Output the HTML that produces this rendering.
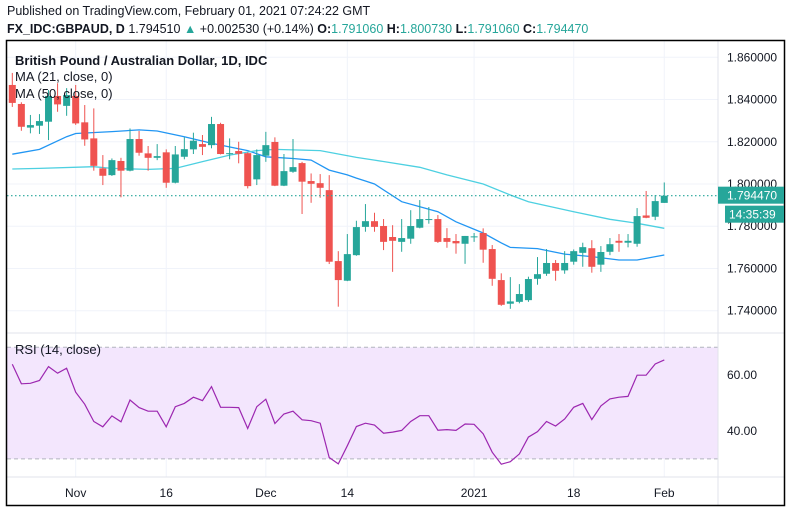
<!DOCTYPE html>
<html><head><meta charset="utf-8">
<style>
html,body{margin:0;padding:0;background:#fff;}
body{width:791px;height:513px;overflow:hidden;font-family:"Liberation Sans",sans-serif;}
.h1{position:absolute;left:7px;top:4px;font-size:12.5px;color:#131722;}
.h2{position:absolute;left:7px;top:22px;font-size:12.5px;color:#131722;white-space:nowrap;}
.h2 b{font-weight:bold}
.g{color:#26a69a}
svg{position:absolute;left:0;top:0}
</style></head>
<body>
<div class="h1">Published on TradingView.com, February 01, 2021 07:24:22 GMT</div>
<div class="h2"><b>FX_IDC:GBPAUD, D</b> 1.794510 <span class="g">▲</span> +0.002530 (+0.14%) <b>O:</b><span class="g">1.791060</span> <b>H:</b><span class="g">1.800730</span> <b>L:</b><span class="g">1.791060</span> <b>C:</b><span class="g">1.794470</span></div>
<svg id="chart" width="791" height="513"></svg>
<script>
const opens=[1.8469,1.8379,1.8267,1.8276,1.8295,1.8417,1.8370,1.8417,1.8292,1.8216,1.8074,1.8042,1.8109,1.8063,1.8213,1.8145,1.8124,1.8150,1.8006,1.8129,1.8164,1.8189,1.8184,1.8284,1.8144,1.8156,1.8146,1.8022,1.8134,1.8199,1.7992,1.8058,1.8099,1.8014,1.8004,1.7971,1.7635,1.7542,1.7663,1.7797,1.7824,1.7801,1.7749,1.7726,1.7741,1.7793,1.7832,1.7834,1.7744,1.7730,1.7717,1.7750,1.7768,1.7692,1.7545,1.7433,1.7442,1.7450,1.7551,1.7575,1.7626,1.7591,1.7632,1.7674,1.7696,1.7618,1.7679,1.7731,1.7722,1.7717,1.7851,1.7845,1.79106];
const highs=[1.8526,1.8387,1.8327,1.8331,1.8445,1.8477,1.8454,1.8469,1.8374,1.8358,1.8137,1.8121,1.8124,1.8263,1.8251,1.8180,1.8189,1.8164,1.8180,1.8221,1.8243,1.8232,1.8318,1.8290,1.8216,1.8200,1.8150,1.8164,1.8247,1.8221,1.8142,1.8213,1.8105,1.8050,1.8047,1.8042,1.7682,1.7763,1.7826,1.7905,1.7864,1.7834,1.7805,1.7834,1.7876,1.7924,1.7891,1.7853,1.7791,1.7763,1.7754,1.7768,1.7790,1.7711,1.7577,1.7559,1.7526,1.7561,1.7654,1.7692,1.7640,1.7682,1.7690,1.7722,1.7734,1.7706,1.7744,1.7763,1.7763,1.7886,1.7967,1.7948,1.80073];
const lows=[1.8365,1.8252,1.8240,1.8237,1.8208,1.8342,1.8323,1.8280,1.8181,1.8063,1.7995,1.8038,1.7937,1.8060,1.8134,1.8063,1.8113,1.7982,1.8003,1.8117,1.8142,1.8137,1.8169,1.8140,1.8117,1.8098,1.7979,1.7995,1.8105,1.7990,1.7990,1.8053,1.7858,1.7911,1.7935,1.7621,1.7419,1.7540,1.7660,1.7774,1.7774,1.7687,1.7584,1.7679,1.7717,1.7790,1.7812,1.7721,1.7698,1.7670,1.7622,1.7726,1.7627,1.7518,1.7423,1.7409,1.7435,1.7442,1.7523,1.7565,1.7542,1.7575,1.7618,1.7608,1.7580,1.7584,1.7663,1.7679,1.7700,1.7703,1.7838,1.7829,1.79106];
const closes=[1.8384,1.8271,1.8279,1.8298,1.8417,1.8377,1.8421,1.8287,1.8211,1.8086,1.8039,1.8113,1.8063,1.8213,1.8148,1.8124,1.8132,1.8006,1.8140,1.8165,1.8205,1.8176,1.8284,1.8142,1.8146,1.8143,1.7990,1.8137,1.8184,1.7992,1.8061,1.8080,1.8011,1.8001,1.7982,1.7632,1.7545,1.7668,1.7796,1.7824,1.7797,1.7726,1.7731,1.7744,1.7801,1.7834,1.7834,1.7726,1.7726,1.7719,1.7754,1.7752,1.7689,1.7551,1.7428,1.7444,1.7479,1.7550,1.7573,1.7626,1.7589,1.7626,1.7682,1.7701,1.7608,1.7678,1.7715,1.7722,1.7731,1.7848,1.7840,1.7919,1.79447];
const ma21Idx=[0,3,6,7,11,14,16,19,22,26,28,31,33,35,37,38,39,40,43,47,49,52,54,55,58,61,64,67,69,72];
const ma21Val=[1.8141,1.8164,1.8224,1.8239,1.8248,1.8256,1.8251,1.8224,1.8193,1.8158,1.8129,1.8121,1.8113,1.8066,1.8043,1.8028,1.8014,1.8000,1.7916,1.7869,1.7821,1.7768,1.7721,1.7700,1.7694,1.7668,1.7656,1.7640,1.7640,1.7664];
const ma50Idx=[0,3,9,11,15,18,21,24,27,29,34,38,40,45,48,52,55,57,62,66,69,72];
const ma50Val=[1.8071,1.8074,1.8082,1.8074,1.8069,1.8074,1.8106,1.8137,1.8158,1.8164,1.8158,1.8126,1.8113,1.8079,1.8043,1.8000,1.7948,1.7916,1.7869,1.7833,1.7814,1.7790];
const rsi=[63.9,56.9,57.1,58.1,63.1,60.7,62.5,53.9,49.6,43.4,41.5,45.4,43.3,51.1,48.4,47.1,47.1,41.5,48.7,49.9,52.1,50.9,55.9,48.5,48.5,48.4,40.9,48.7,51.4,42.7,46.1,47.1,44.0,43.7,42.8,30.5,28.2,34.7,41.6,42.8,42.1,39.2,39.6,40.2,43.4,45.5,45.5,40.3,40.5,40.2,42.5,42.4,39.0,32.4,28.1,29.0,31.8,37.8,39.8,43.4,41.8,44.3,48.5,49.9,44.1,49.0,51.5,52.1,52.4,60.0,60.0,64.0,65.5];
const priceTicks=[1.86,1.84,1.82,1.80,1.78,1.76,1.74];
const rsiTicks=[60,40];
const timeLabels=["Nov","16","Dec","14","2021","18","Feb"];
const timeIdx=[7,17,28,37,51,62,72];
const lastPrice=1.79447;

const NS="http://www.w3.org/2000/svg";
const svg=document.getElementById('chart');
function el(tag,attrs,parent){const e=document.createElementNS(NS,tag);for(const k in attrs)e.setAttribute(k,attrs[k]);(parent||svg).appendChild(e);return e;}
const X=i=>12.3+9.055*i;
const Y=p=>57.3+(1.86-p)*2111.7;
const RY=v=>347.3+(70-v)*2.79;
const L=7,R=718,T=41,MB=333,RB=477,B=505;

const grid=el('g',{});


timeIdx.forEach(i=>{el('line',{x1:X(i),x2:X(i),y1:T,y2:RB,stroke:'#f0f3fa','stroke-width':1},grid);});
priceTicks.forEach(p=>{el('line',{x1:L,x2:R,y1:Y(p),y2:Y(p),stroke:'#f0f3fa','stroke-width':1},grid);});
const band=el('rect',{x:L,y:RY(70),width:R-L,height:RY(30)-RY(70),fill:'#f3e6fd'});


rsiTicks.forEach(v=>{el('line',{x1:L,x2:R,y1:RY(v),y2:RY(v),stroke:'#e4d3f0','stroke-width':1},grid);});
timeIdx.forEach(i=>{el('line',{x1:X(i),x2:X(i),y1:RY(70),y2:RY(30),stroke:'#e8d8f3','stroke-width':1},grid);});
[70,30].forEach(v=>{const d=el('line',{x1:L,x2:R,y1:RY(v),y2:RY(v),stroke:'#b2b5be','stroke-width':1,'stroke-dasharray':'4,3'});});

function poly(idx,val,color,name){let d='';idx.forEach((i,k)=>{d+=(k?'L':'M')+X(i).toFixed(1)+','+Y(val[k]).toFixed(1);});const p=el('path',{d:d,fill:'none',stroke:color,'stroke-width':1.3});}
poly(ma21Idx,ma21Val,'#2196f3','ma-21-line');
poly(ma50Idx,ma50Val,'#4dd0e1','ma-50-line');

const cg=el('g',{});


opens.forEach((o,i)=>{
  const c=closes[i],up=c>=o,col=up?'#26a69a':'#ef5350';
  const g=el('g',{},cg);
  
  
  const x=X(i);
  el('line',{x1:x,x2:x,y1:Y(highs[i]),y2:Y(lows[i]),stroke:col,'stroke-width':1},g);
  const top=Y(Math.max(o,c)),bot=Y(Math.min(o,c));
  el('rect',{x:x-3.5,y:top,width:7,height:Math.max(1,bot-top),fill:col},g);
});

const lp=el('line',{x1:L,x2:R,y1:Y(lastPrice),y2:Y(lastPrice),stroke:'#26a69a','stroke-width':1.2,'stroke-dasharray':'1.5,2.5'});



let rd='';rsi.forEach((v,i)=>{rd+=(i?'L':'M')+X(i).toFixed(1)+','+RY(v).toFixed(1);});
const rl=el('path',{d:rd,fill:'none',stroke:'#9c27b0','stroke-width':1.2});



el('line',{x1:R,x2:R,y1:T,y2:B,stroke:'#e0e3eb','stroke-width':1});
el('line',{x1:L,x2:784,y1:MB,y2:MB,stroke:'#e0e3eb','stroke-width':1});
el('line',{x1:L,x2:784,y1:RB,y2:RB,stroke:'#e0e3eb','stroke-width':1});
const fr=el('rect',{x:6.5,y:40.5,width:778,height:465,fill:'none',stroke:'#000','stroke-width':1.5});



const txt=(s,x,y,attrs,name)=>{const t=el('text',Object.assign({x:x,y:y,'font-size':12,fill:'#131722','font-family':'Liberation Sans, sans-serif'},attrs||{}));t.textContent=s;return t;};
priceTicks.forEach(p=>txt(p.toFixed(6),727,Y(p)+4,{},'price-tick-label'));
rsiTicks.forEach(v=>txt(v.toFixed(2),727,RY(v)+4,{},'rsi-tick-label'));
timeLabels.forEach((s,k)=>txt(s,X(timeIdx[k]),497,{'text-anchor':'middle'},'time-tick-label'));

const b1=el('rect',{x:718,y:Y(lastPrice)-9,width:66,height:17,fill:'#26a69a'});


txt(lastPrice.toFixed(6),727,Y(lastPrice)+4,{fill:'#fff'},'last-price-label');
const b2=el('rect',{x:725,y:Y(lastPrice)+10,width:59,height:17,fill:'#26a69a'});


txt('14:35:39',729,Y(lastPrice)+23,{fill:'#fff'},'countdown-label');

txt('British Pound / Australian Dollar, 1D, IDC',15,65,{'font-size':13,'font-weight':'bold'},'chart-title');
txt('MA (21, close, 0)',15,81,{'font-size':13},'legend-ma-21');
txt('MA (50, close, 0)',15,98,{'font-size':13},'legend-ma-50');
txt('RSI (14, close)',15,354,{'font-size':13},'legend-rsi');
</script>
</body></html>
